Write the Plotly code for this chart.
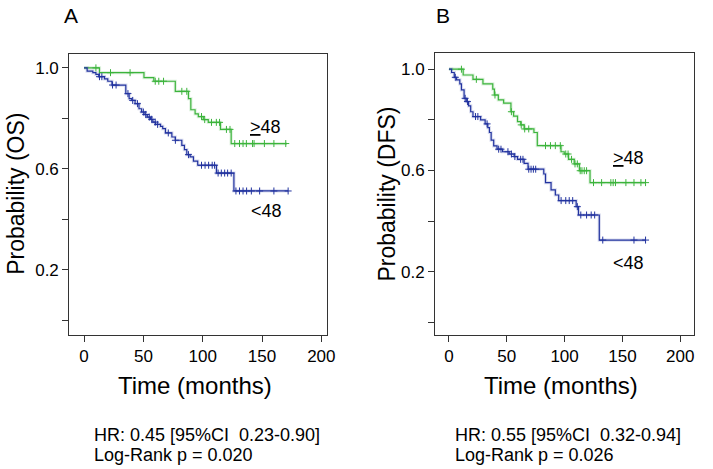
import plotly.graph_objects as go

# ---------------- data ----------------
# Panel A: overall survival
os_ge48_t = [0, 13, 50.5, 58.8, 76.9, 88, 90, 93.6, 96.3, 100.5, 104.7, 115, 124, 171]
os_ge48_s = [1.0, 0.981, 0.961, 0.947, 0.907, 0.878, 0.834, 0.818, 0.807, 0.795, 0.784, 0.756, 0.700, 0.700]
os_ge48_cens = [10, 22.3, 38.8, 60, 63, 67, 82.4, 86.6, 99, 101.7, 107.4, 111.5, 114.2,
                120, 123, 127, 131, 134, 136.8, 142, 143.3, 152, 160, 170]

os_lt48_t = [0, 2.6, 7.4, 10, 12.4, 17.2, 20, 23.5, 35.2, 38, 40.2, 43, 46.3, 48.5, 51.3, 53.3,
             56, 58, 60.2, 64.4, 66.3, 68.6, 74, 76.9, 82.4, 84.6, 86.6, 89.4, 92.2, 95.8,
             111.6, 126.3, 172]
os_lt48_s = [1.0, 0.987, 0.981, 0.974, 0.965, 0.956, 0.947, 0.932, 0.898, 0.878, 0.871, 0.858,
             0.838, 0.825, 0.815, 0.805, 0.796, 0.785, 0.776, 0.768, 0.759, 0.742, 0.726, 0.713,
             0.693, 0.676, 0.656, 0.647, 0.630, 0.614, 0.583, 0.512, 0.512]
os_lt48_cens = [13, 15, 24, 27, 37, 41, 45, 50, 52, 55, 57, 60, 62, 71, 77, 88, 99, 102, 105,
                108, 110, 113, 115.7, 118.5, 121, 124, 128, 131, 134, 137, 141, 148, 160, 172]

# Panel B: disease-free survival
dfs_ge48_t = [0, 12.3, 20.8, 29.4, 37.9, 39.3, 42.7, 47.3, 53.6, 55.9, 59.3, 62.1, 65, 73.5,
              76.4, 96.9, 99.7, 103.4, 108.3, 112.8, 122, 170]
dfs_ge48_s = [1.0, 0.977, 0.960, 0.942, 0.921, 0.898, 0.879, 0.866, 0.832, 0.815, 0.793, 0.780,
              0.764, 0.750, 0.698, 0.674, 0.665, 0.644, 0.626, 0.599, 0.552, 0.552]
dfs_ge48_cens = [10.8, 23.7, 39.8, 54, 62.5, 65.5, 69, 83.5, 87.8, 92, 96.3, 101, 103, 106,
                 109, 111, 113.5, 115, 117, 119, 125, 132, 140, 142, 144, 153, 160, 166, 170]

dfs_lt48_t = [0, 2.3, 4.6, 6.6, 9.4, 10.8, 13.1, 15, 17, 18.8, 20.8, 27.4, 31.3, 33.6, 35, 36.5,
              38.7, 41.6, 46.4, 52.1, 56.4, 59.3, 65, 68.4, 82, 83.5, 88.3, 92, 94.9, 110, 112,
              130, 170]
dfs_lt48_s = [1.0, 0.987, 0.968, 0.958, 0.942, 0.918, 0.885, 0.872, 0.855, 0.832, 0.813, 0.800,
              0.784, 0.769, 0.750, 0.720, 0.697, 0.684, 0.674, 0.665, 0.655, 0.644, 0.628, 0.605,
              0.586, 0.552, 0.523, 0.503, 0.481, 0.457, 0.424, 0.325, 0.325]
dfs_lt48_cens = [5.5, 14, 16, 23, 25, 33, 43, 45, 51, 54, 57, 62, 64, 69, 71, 73, 75, 97, 101,
                 104, 107, 111, 114, 119, 123, 126, 133, 160, 170]

x_ticks = [0, 50, 100, 150, 200]
y_ticks = [0.0, 0.2, 0.4, 0.6, 0.8, 1.0]
y_ticktext = ["", "0.2", "", "0.6", "", "1.0"]

GREEN = "#3cb43c"
BLUE = "#22339f"
FONT = "Arial, Liberation Sans, sans-serif"
W, H = 713, 469


def step_at(ts, ss, t):
    v = ss[0]
    for ti, si in zip(ts, ss):
        if ti <= t:
            v = si
        else:
            break
    return v


fig = go.Figure()


def add_curve(ts, ss, cens, color, xa, ya):
    # soft halo
    fig.add_trace(go.Scatter(x=ts, y=ss, mode="lines", line=dict(color=color, width=3.2, shape="hv"),
                             opacity=0.16, xaxis=xa, yaxis=ya, hoverinfo="skip", showlegend=False))
    fig.add_trace(go.Scatter(x=ts, y=ss, mode="lines", line=dict(color=color, width=1.2, shape="hv"),
                             xaxis=xa, yaxis=ya, showlegend=False))
    fig.add_trace(go.Scatter(x=cens, y=[step_at(ts, ss, c) for c in cens], mode="markers",
                             marker=dict(symbol="cross-thin", size=5, line=dict(color=color, width=1)),
                             xaxis=xa, yaxis=ya, showlegend=False))


add_curve(os_ge48_t, os_ge48_s, os_ge48_cens, GREEN, "x", "y")
add_curve(os_lt48_t, os_lt48_s, os_lt48_cens, BLUE, "x", "y")
add_curve(dfs_ge48_t, dfs_ge48_s, dfs_ge48_cens, GREEN, "x2", "y2")
add_curve(dfs_lt48_t, dfs_lt48_s, dfs_lt48_cens, BLUE, "x2", "y2")


def px_x(p):
    return p / W


def px_y(p):
    return 1 - p / H


axis_common = dict(showline=True, linecolor="#333", linewidth=1, mirror=True, showgrid=False,
                   zeroline=False, ticks="outside", ticklen=6, tickwidth=1, tickcolor="#333",
                   tickfont=dict(family=FONT, size=17, color="black"))

fig.update_layout(
    width=W, height=H, margin=dict(l=0, r=0, t=0, b=0),
    paper_bgcolor="white", plot_bgcolor="white",
    xaxis=dict(domain=[px_x(70), px_x(331)], range=[-12.5, 205], tickvals=x_ticks, anchor="y",
               **axis_common),
    yaxis=dict(domain=[px_y(335), px_y(54)], range=[-0.059, 1.055], tickvals=y_ticks,
               ticktext=y_ticktext, anchor="x", **axis_common),
    xaxis2=dict(domain=[px_x(440), px_x(702)], range=[-12, 212], tickvals=x_ticks, anchor="y2",
                **axis_common),
    yaxis2=dict(domain=[px_y(335), px_y(53)], range=[-0.05, 1.064], tickvals=y_ticks,
                ticktext=y_ticktext, anchor="x2", **axis_common),
)


def ann(text, x, y, size, xanchor="center", angle=0):
    fig.add_annotation(text=text, x=px_x(x), y=px_y(y), xref="paper", yref="paper",
                       xanchor=xanchor, yanchor="middle", showarrow=False, textangle=angle,
                       font=dict(family=FONT, size=size, color="black"))


ann("A", 72, 15, 21)
ann("B", 448, 15, 21)
ann("Probability (OS)", 16, 194, 23, angle=-90)
ann("Probability (DFS)", 391, 194, 23, angle=-90)
ann("Time (months)", 197, 385, 24)
ann("Time (months)", 567, 385, 24)
ann("<u>></u>48", 269, 127, 18)
ann("&lt;48", 270, 211, 18)
ann("<u>></u>48", 636, 158, 18)
ann("&lt;48", 636, 263, 18)
ann("HR: 0.45 [95%CI &nbsp;0.23-0.90]", 93, 435, 18, xanchor="left")
ann("Log-Rank p = 0.020", 93, 455, 18, xanchor="left")
ann("HR: 0.55 [95%CI &nbsp;0.32-0.94]", 458, 435, 18, xanchor="left")
ann("Log-Rank p = 0.026", 458, 455, 18, xanchor="left")

fig.write_html("out.html", config={"displayModeBar": False},
               post_script="document.body.style.margin='0px';")
